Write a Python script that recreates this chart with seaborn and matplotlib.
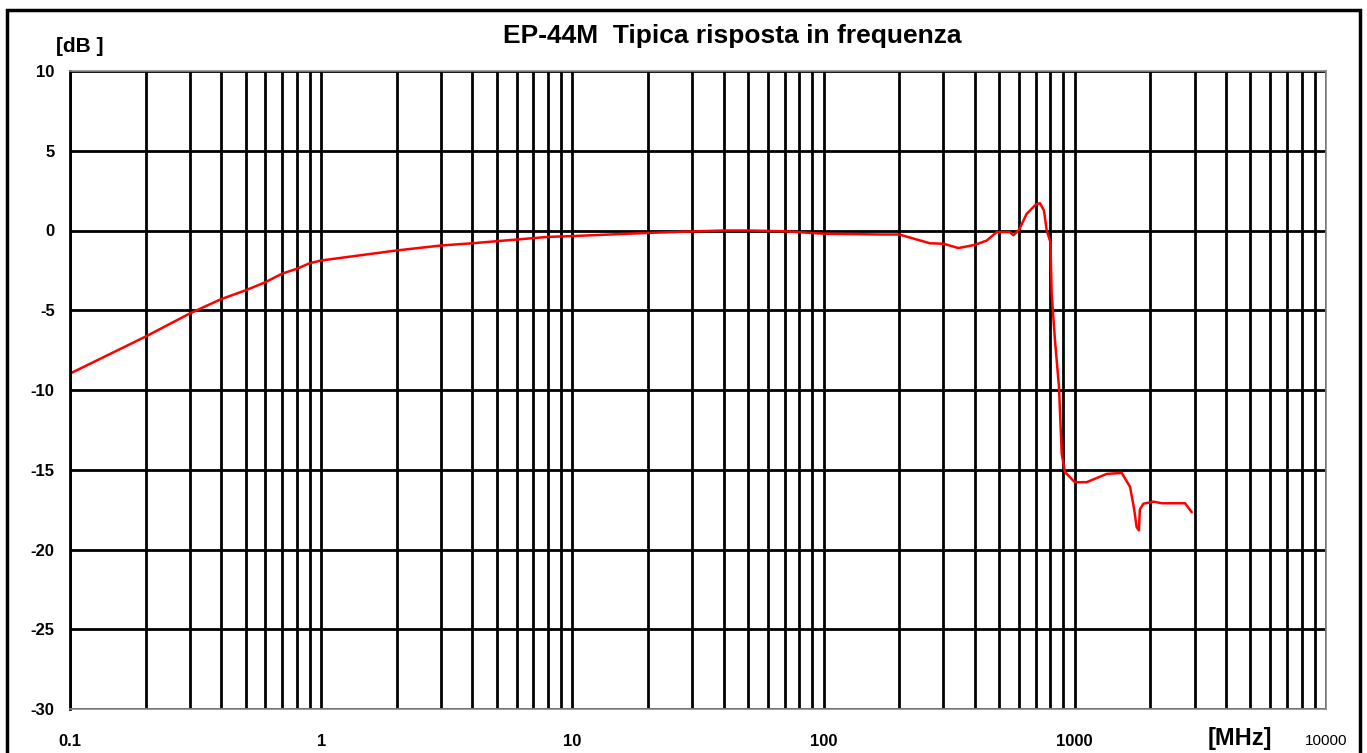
import numpy as np
import pandas as pd
import matplotlib
matplotlib.use("Agg")
import matplotlib.pyplot as plt
from matplotlib.patches import Rectangle
from matplotlib.ticker import LogLocator, FixedLocator, NullFormatter
import seaborn as sns

# response
freq_mhz = [0.1, 0.2, 0.3, 0.4, 0.5, 0.6, 0.7, 0.8, 0.9, 1, 2, 3, 4, 5, 8,
            10, 20, 40, 50, 70, 100, 168, 200, 265, 300, 344, 400, 446, 489,
            552, 569, 600, 643, 700, 727, 754, 773, 800, 809, 834, 865, 887,
            914, 1000, 1114, 1340, 1538, 1660, 1722, 1763, 1800, 1815, 1875,
            2055, 2220, 2748, 2920]
gain_db = [-8.97, -6.65, -5.2, -4.3, -3.75, -3.24, -2.7, -2.4, -2.05, -1.88,
           -1.25, -0.94, -0.8, -0.67, -0.4, -0.35, -0.15, 0.0, 0.0, -0.05,
           -0.2, -0.25, -0.25, -0.8, -0.83, -1.1, -0.9, -0.63, -0.1, -0.1,
           -0.3, 0.05, 1.04, 1.63, 1.71, 1.25, 0.0, -0.73, -3.97, -6.9, -9.8,
           -14.0, -15.15, -15.78, -15.78, -15.26, -15.2, -16.08, -17.45,
           -18.6, -18.8, -17.5, -17.13, -17.0, -17.1, -17.1, -17.66]

x_ticks = [0.1, 1, 10, 100, 1000, 10000]
x_labels = ["0.1", "1", "10", "100", "1000", "10000"]
y_ticks = [10, 5, 0, -5, -10, -15, -20, -25, -30]

df = pd.DataFrame({"freq": freq_mhz, "db": gain_db})

sns.set_style("white")
plt.rcParams["font.family"] = ["Liberation Sans", "DejaVu Sans"]
plt.rcParams["text.color"] = "black"
plt.rcParams["xtick.color"] = "black"
plt.rcParams["ytick.color"] = "black"

fig = plt.figure(figsize=(13.67, 7.53), dpi=100)
ax = fig.add_axes([70 / 1367, 1 - 709 / 753, (1326 - 70) / 1367, (709 - 71) / 753])

ax.set_xscale("log")
ax.set_xlim(0.1, 10000)
ax.set_ylim(-30, 10)

# grid first, curve on top
ax.xaxis.set_major_locator(FixedLocator(x_ticks))
ax.xaxis.set_minor_locator(LogLocator(base=10, subs=np.arange(2, 10), numticks=50))
ax.xaxis.set_minor_formatter(NullFormatter())
ax.set_yticks(y_ticks)
ax.grid(True, which="both", axis="x", color="black", lw=2)
ax.grid(True, which="major", axis="y", color="black", lw=2)
ax.set_axisbelow(True)

sns.lineplot(data=df, x="freq", y="db", ax=ax, color="#ff0000", lw=1.8,
             sort=False, estimator=None)

ax.set_xticklabels(x_labels, fontsize=12, fontweight="bold", color="black")
for lbl in ax.get_xticklabels():
    if lbl.get_text() == "10000":
        lbl.set_fontweight("normal")
        lbl.set_fontsize(11)
ax.set_yticklabels([str(v) for v in y_ticks], fontsize=12, fontweight="bold",
                   color="black")
ax.tick_params(axis="x", which="both", length=0, pad=18)
ax.tick_params(axis="y", length=6, width=2, color="black", pad=5, direction="out")
ax.set_xlabel("")
ax.set_ylabel("")

for side in ["top", "right", "bottom"]:
    ax.spines[side].set_color("#888888")
    ax.spines[side].set_linewidth(1.2)
ax.spines["left"].set_color("black")
ax.spines["left"].set_linewidth(2)

fig.text(732 / 1367, 1 - 36 / 753, "EP-44M  Tipica risposta in frequenza",
         ha="center", va="center", fontsize=19, fontweight="bold", color="black")
fig.text(80 / 1367, 1 - 47 / 753, "[dB ]", ha="center", va="center",
         fontsize=15, fontweight="bold", color="black")
fig.text(1240 / 1367, 1 - 738 / 753, "[MHz]", ha="center", va="center",
         fontsize=17, fontweight="bold", color="black")

fig.patches.append(Rectangle((7 / 1367, -0.02), (1360 - 7) / 1367, 1.02 - 10 / 753,
                             transform=fig.transFigure, fill=False,
                             lw=2.5, ec="black"))

fig.savefig("out.png", dpi=100)
